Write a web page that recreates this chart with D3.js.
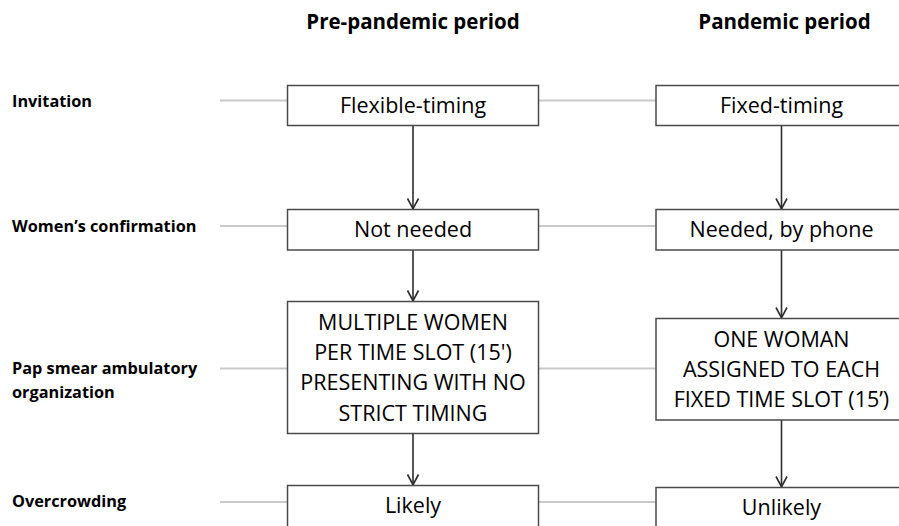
<!DOCTYPE html>
<html>
<head>
<meta charset="utf-8">
<script src="https://cdn.jsdelivr.net/npm/d3@7/dist/d3.min.js"></script>
<style>
  html, body { margin: 0; padding: 0; background: #fff; }
  svg { display: block; }
</style>
</head>
<body>
<svg id="chart" width="899" height="526"></svg>
<script>
// ---- data ----
const periods = ["Pre-pandemic period", "Pandemic period"];
const stages = [
  ["Invitation"],
  ["Women\u2019s confirmation"],
  ["Pap smear ambulatory", "organization"],
  ["Overcrowding"]
];
const prePandemic = [
  ["Flexible-timing"],
  ["Not needed"],
  ["MULTIPLE WOMEN", "PER TIME SLOT (15')", "PRESENTING WITH NO", "STRICT TIMING"],
  ["Likely"]
];
const pandemic = [
  ["Fixed-timing"],
  ["Needed, by phone"],
  ["ONE WOMAN", "ASSIGNED TO EACH", "FIXED TIME SLOT (15\u2019)"],
  ["Unlikely"]
];

// ---- layout ----
const svg = d3.select("#chart");
const font = "'Open Sans', 'DejaVu Sans', sans-serif";
const boxW = 251;
const x = d3.scalePoint().domain(periods).range([413, 781.5]);
const rowIdx = d3.range(stages.length);
const rowLine = d3.scaleOrdinal(rowIdx, [100.5, 226, 368.5, 502]);
const boxTop = d3.scaleOrdinal(rowIdx, [[85.5, 85.5], [209.5, 209.5], [301.5, 318.5], [485.5, 487.5]]);
const boxBot = d3.scaleOrdinal(rowIdx, [[125.5, 125.5], [250, 250], [433.5, 420], [545, 545]]);
const textSize = d3.scaleOrdinal(rowIdx, [21.5, 21.5, 21.5, 21.5]);
const lineGap = 30.3;
const labelBase = d3.scaleOrdinal(rowIdx, [107, 232, 374, 507]);

const cols = [prePandemic, pandemic];

// column titles
svg.selectAll("text.title").data(periods).join("text")
  .attr("class", "title")
  .attr("x", (d, i) => x(d) + (i === 1 ? 3 : 0))
  .attr("y", 29)
  .attr("text-anchor", "middle")
  .attr("font-family", font)
  .attr("font-weight", "bold")
  .attr("font-size", 20.5)
  .attr("fill", "#000")
  .text(d => d);

// row labels
const lab = svg.selectAll("text.label").data(stages).join("text")
  .attr("class", "label")
  .attr("x", 12)
  .attr("y", (d, i) => labelBase(i))
  .attr("font-family", font)
  .attr("font-weight", "bold")
  .attr("font-size", 16.3)
  .attr("fill", "#000");
lab.selectAll("tspan").data(d => d).join("tspan")
  .attr("x", 12)
  .attr("dy", (d, j) => j === 0 ? 0 : 23.5)
  .text(d => d);

// connector lines (light gray)
const conn = svg.append("g")
  .attr("stroke", "#c9c9c9")
  .attr("stroke-width", 2);
rowIdx.forEach(i => {
  const y = rowLine(i);
  conn.append("line").attr("x1", 220).attr("x2", x(periods[0]) - boxW / 2).attr("y1", y).attr("y2", y);
  conn.append("line").attr("x1", x(periods[0]) + boxW / 2).attr("x2", x(periods[1]) - boxW / 2).attr("y1", y).attr("y2", y);
});

// arrows between rows
const arr = svg.append("g")
  .attr("stroke", "#2e2e2e")
  .attr("stroke-width", 1.6)
  .attr("fill", "none");
periods.forEach((p, c) => {
  const cx = x(p);
  for (let i = 0; i < stages.length - 1; i++) {
    const y1 = boxBot(i)[c];
    const y2 = boxTop(i + 1)[c];
    arr.append("line").attr("x1", cx).attr("x2", cx).attr("y1", y1).attr("y2", y2 - 0.5);
    arr.append("path").attr("d", d3.line()([[cx - 5.5, y2 - 11], [cx, y2 - 0.8], [cx + 5.5, y2 - 11]]));
  }
});

// boxes
const boxes = svg.append("g");
periods.forEach((p, c) => {
  const cx = x(p);
  cols[c].forEach((lines, i) => {
    const t = boxTop(i)[c], b = boxBot(i)[c];
    boxes.append("rect")
      .attr("x", cx - boxW / 2)
      .attr("y", t)
      .attr("width", boxW)
      .attr("height", b - t)
      .attr("fill", "#fff")
      .attr("stroke", "#4a4a4a")
      .attr("stroke-width", 1.5);
    const fs = textSize(i);
    const n = lines.length;
    const mid = (i === 3) ? t + 20 : (t + b) / 2;
    const first = mid - (n - 1) * lineGap / 2 + fs * 0.36;
    const tx = boxes.append("text")
      .attr("text-anchor", "middle")
      .attr("font-family", font)
      .attr("font-size", fs)
      .attr("fill", "#000");
    tx.selectAll("tspan").data(lines).join("tspan")
      .attr("x", cx)
      .attr("y", (d, j) => first + j * lineGap)
      .text(d => d);
  });
});
</script>
</body>
</html>
